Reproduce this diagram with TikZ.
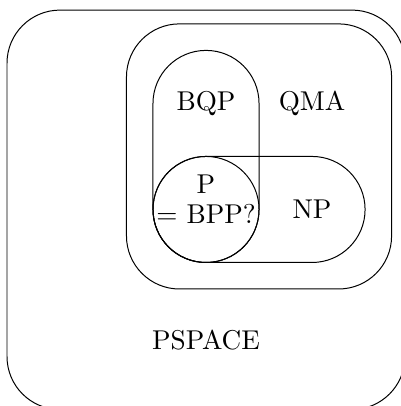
\documentclass[tikz,border=0pt]{standalone}
\usepackage{tikz}
\usetikzlibrary{positioning}

\begin{document}
\begin{tikzpicture}[
        classbox/.style={draw=black, rounded corners=0.75cm},
        classname/.style={font=\fontsize{10.95}{12}\selectfont, align=center, inner sep=0pt}
    ]
        \clip (-2.914,-2.780) rectangle (2.758,2.963);
        \useasboundingbox (-2.914,-2.780) rectangle (2.758,2.963);

        % complexity classes
        \draw [classbox] (-2.815,-2.83) rectangle (2.815,2.82);
        \draw [classbox] (-1.125,-1.125) rectangle (2.625,2.625);
        \draw [classbox] (-0.75,-0.75) rectangle (0.75,2.25);
        \draw [classbox] (-0.75,-0.75) rectangle (2.25,0.75);
        \draw (0,0) circle (0.75cm);

        \node [classname] (bqp) at (0,1.5) {BQP};
        \node [classname] (qma) at (1.5,1.5) {QMA};
        \node [classname] (p) at (0,0.15) {P\\= BPP?};
        \node [classname] (np) at (1.5,0) {NP};
        \node [classname] (pspace) at (0,-1.85) {PSPACE};
    \end{tikzpicture}
\end{document}
